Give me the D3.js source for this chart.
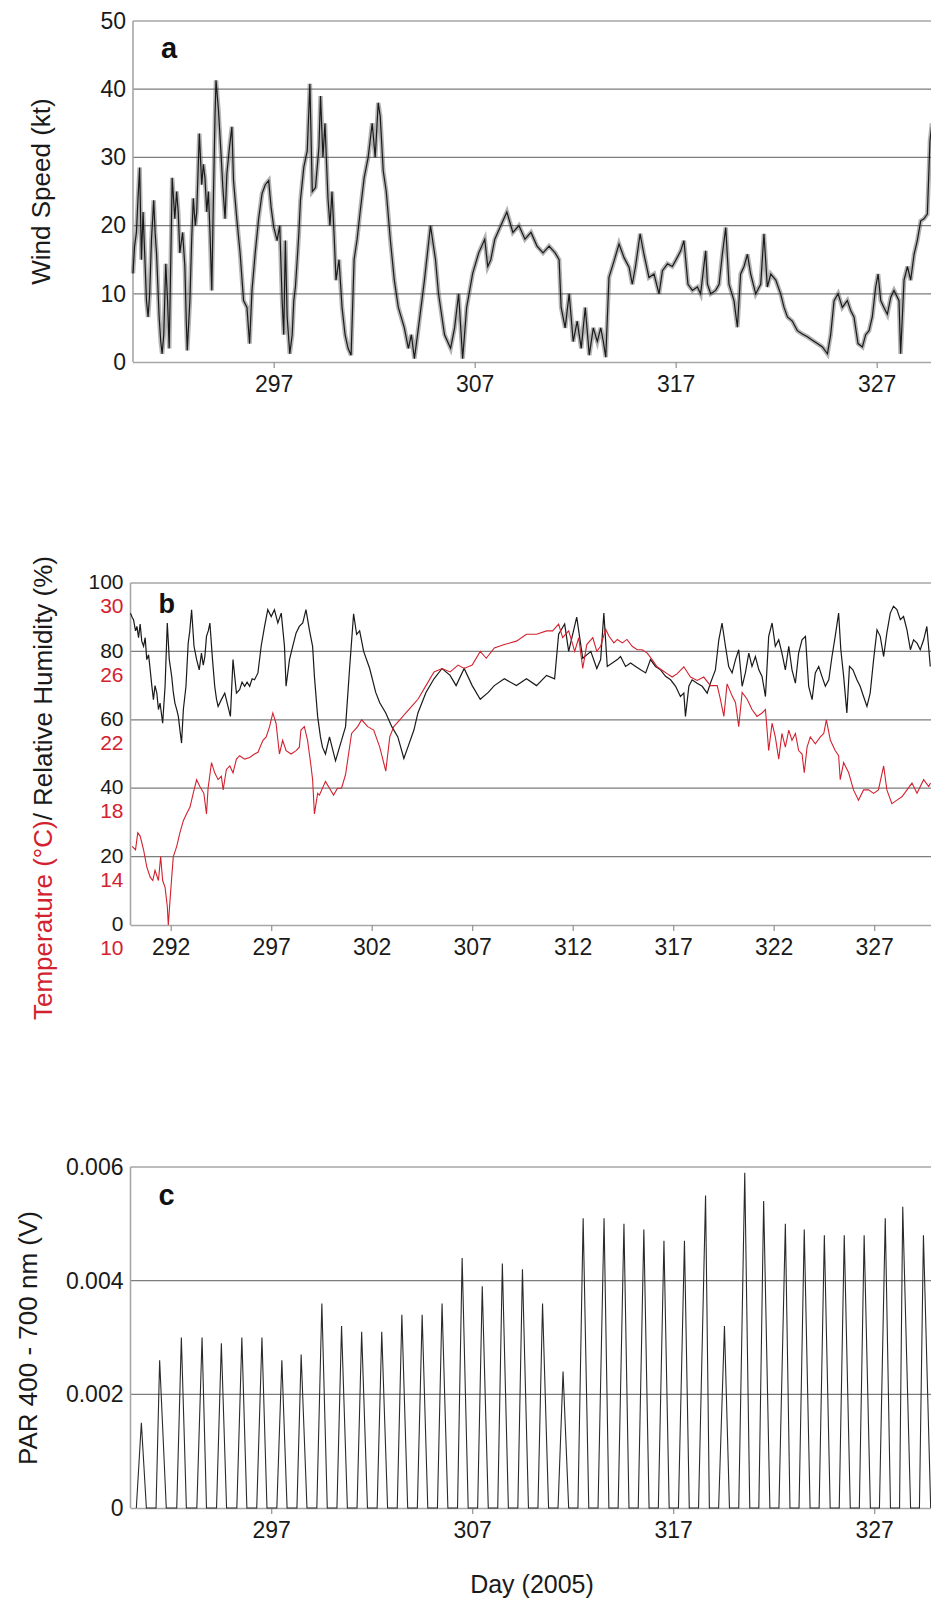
<!DOCTYPE html>
<html>
<head>
<meta charset="utf-8">
<script src="https://cdn.jsdelivr.net/npm/d3@7"></script>
<style>
    body { margin: 0; background: #fff; }
    svg { display: block; font-family: "Liberation Sans", Arial, Helvetica, sans-serif; }
</style>
</head>
<body>
<svg id="chart" width="931" height="1600"></svg>
<script>
"use strict";

// ---- data (day of 2005, value) ----

// panel a: wind speed (kt)
const windSpeed = [
    [290.00, 13], [290.08, 17], [290.17, 19], [290.25, 24], [290.33, 28.5], [290.42, 15], [290.50, 22],
    [290.58, 16], [290.67, 9], [290.75, 6.6], [290.83, 10], [290.92, 18], [291.03, 23.7], [291.10, 19],
    [291.17, 16], [291.30, 6.6], [291.38, 3], [291.45, 1.2], [291.53, 4], [291.63, 14.4], [291.72, 9],
    [291.80, 2], [291.88, 15], [291.95, 27], [292.08, 21], [292.17, 25], [292.25, 22], [292.33, 16],
    [292.47, 19], [292.58, 14], [292.65, 6], [292.70, 1.7], [292.83, 9], [292.92, 18], [293.00, 24],
    [293.10, 20], [293.17, 22], [293.30, 33.5], [293.42, 26], [293.50, 29], [293.58, 27], [293.67, 22],
    [293.75, 25], [293.83, 19], [293.92, 10.5], [294.00, 24], [294.08, 36], [294.13, 41.3], [294.25, 37],
    [294.37, 31], [294.47, 25.6], [294.58, 21], [294.67, 27.6], [294.80, 31.5], [294.92, 34.5], [295.00, 26.6],
    [295.17, 20.8], [295.33, 15.9], [295.50, 9], [295.67, 8], [295.80, 2.7], [295.92, 10.5], [296.08, 16],
    [296.25, 21], [296.42, 24.7], [296.58, 26], [296.75, 26.6], [296.87, 22.7], [297.00, 19.8], [297.17, 17.8],
    [297.30, 20], [297.42, 9], [297.50, 4], [297.58, 17.8], [297.67, 6.6], [297.80, 1.2], [297.92, 4],
    [298.00, 9], [298.08, 11], [298.17, 15], [298.25, 18.8], [298.33, 23.7], [298.50, 28.6], [298.67, 31],
    [298.80, 40.8], [298.92, 25], [299.08, 25.6], [299.25, 31.5], [299.33, 39], [299.45, 30], [299.55, 35],
    [299.70, 24], [299.80, 20], [299.90, 25], [300.00, 19], [300.10, 12], [300.25, 15], [300.40, 8],
    [300.55, 4], [300.70, 2], [300.85, 1], [301.00, 15], [301.15, 18], [301.30, 22], [301.50, 27],
    [301.70, 30], [301.90, 35], [302.05, 30], [302.20, 38], [302.30, 36], [302.45, 28], [302.60, 25],
    [302.80, 18], [303.00, 12], [303.20, 8], [303.50, 5], [303.70, 2], [303.85, 4], [304.00, 0.5],
    [304.20, 5], [304.50, 12], [304.80, 20], [304.95, 17], [305.05, 15], [305.20, 10], [305.50, 4],
    [305.80, 2], [306.00, 5], [306.20, 10], [306.40, 0.5], [306.60, 8], [306.90, 13], [307.20, 16],
    [307.50, 18], [307.65, 14], [307.80, 15], [308.00, 18], [308.30, 20], [308.60, 22], [308.90, 19],
    [309.20, 20], [309.50, 18], [309.80, 19], [310.10, 17], [310.40, 16], [310.70, 17], [311.00, 16],
    [311.20, 15], [311.30, 8], [311.50, 5], [311.70, 10], [311.90, 3], [312.10, 6], [312.30, 2],
    [312.50, 8], [312.70, 1], [312.90, 5], [313.10, 3], [313.27, 5], [313.40, 3], [313.52, 0.7],
    [313.68, 12.4], [313.93, 14.8], [314.18, 17.3], [314.43, 15.3], [314.68, 13.9], [314.84, 11.4], [315.00, 14],
    [315.23, 18.8], [315.42, 15.8], [315.67, 12.4], [315.92, 12.9], [316.17, 10], [316.34, 13.4], [316.59, 14.4],
    [316.83, 14], [317.00, 14.9], [317.25, 16.3], [317.41, 17.8], [317.61, 11.4], [317.83, 10.5], [318.08, 11],
    [318.24, 10], [318.49, 16.3], [318.58, 11.4], [318.74, 10], [318.99, 10.5], [319.16, 11.4], [319.32, 15.8],
    [319.49, 19.7], [319.65, 11.4], [319.90, 9], [320.07, 5.1], [320.23, 12.9], [320.40, 14], [320.57, 15.8],
    [320.73, 12.9], [320.98, 10], [321.23, 11.4], [321.39, 18.8], [321.56, 11], [321.73, 12.9], [321.98, 12],
    [322.22, 10], [322.39, 8], [322.56, 6.6], [322.80, 6], [323.05, 4.6], [323.30, 4.1], [323.55, 3.7],
    [323.80, 3.2], [324.05, 2.7], [324.30, 2.2], [324.55, 1.2], [324.71, 4], [324.88, 9], [325.08, 10],
    [325.29, 8], [325.54, 9], [325.71, 7.5], [325.87, 6.6], [326.07, 2.7], [326.29, 2.2], [326.45, 4],
    [326.62, 4.6], [326.78, 6.6], [326.95, 11], [327.07, 12.9], [327.20, 9], [327.36, 8], [327.53, 7],
    [327.70, 9.5], [327.86, 10.5], [328.11, 9], [328.19, 1.2], [328.36, 12], [328.53, 14], [328.69, 12],
    [328.86, 15.8], [329.02, 17.8], [329.19, 20.7], [329.35, 21], [329.52, 21.7], [329.65, 32.4], [329.75, 35]
];

// panel b: relative humidity (%)
const humidity = [
    [290.00, 91.2], [290.08, 90], [290.15, 89.3], [290.25, 86], [290.32, 87.3], [290.40, 84], [290.48, 88],
    [290.56, 83], [290.65, 81.5], [290.73, 84], [290.81, 77.6], [290.90, 79], [290.98, 74.6], [291.06, 70],
    [291.14, 65.9], [291.22, 70], [291.31, 67.8], [291.39, 63], [291.47, 64.9], [291.60, 59], [291.72, 69.8],
    [291.83, 88.3], [291.93, 77.6], [292.05, 72.7], [292.13, 68], [292.21, 64.9], [292.30, 63], [292.38, 61],
    [292.46, 57], [292.54, 53.2], [292.63, 63], [292.76, 69.8], [292.87, 82.4], [292.95, 86], [293.04, 92.2],
    [293.16, 81.5], [293.29, 77.6], [293.42, 74.6], [293.53, 79.5], [293.62, 76], [293.70, 78.5], [293.78, 84.4],
    [293.87, 86], [293.95, 88.3], [294.08, 77.6], [294.19, 69.8], [294.28, 66], [294.36, 63.9], [294.52, 65.9],
    [294.69, 67.8], [294.85, 63.9], [294.97, 61], [295.10, 77.6], [295.27, 67.8], [295.43, 68.8], [295.55, 71],
    [295.68, 69.8], [295.80, 71], [295.93, 69.8], [296.05, 72], [296.17, 71.7], [296.34, 73.7], [296.50, 81.5],
    [296.67, 87.3], [296.83, 92.2], [297.00, 90.2], [297.16, 92.2], [297.33, 88.3], [297.50, 91.2], [297.66, 81.5],
    [297.74, 69.8], [297.91, 77.6], [298.07, 81.5], [298.24, 85.4], [298.40, 87.3], [298.57, 88.3], [298.73, 92.2],
    [298.90, 86.3], [299.06, 81.5], [299.15, 72.7], [299.31, 61], [299.45, 55], [299.55, 52], [299.70, 50],
    [299.90, 55], [300.20, 48], [300.40, 52], [300.70, 58], [300.90, 75], [301.10, 91], [301.25, 85],
    [301.40, 86], [301.60, 80], [301.90, 75], [302.20, 68], [302.40, 65], [302.70, 62], [303.00, 58],
    [303.30, 55], [303.60, 48.7], [303.80, 52], [304.10, 57], [304.30, 62], [304.70, 68], [305.10, 72],
    [305.50, 75], [305.90, 73], [306.20, 70], [306.60, 75], [307.00, 70], [307.40, 66], [307.80, 68],
    [308.10, 70], [308.60, 72], [309.20, 70], [309.70, 72], [310.20, 70], [310.70, 73], [311.10, 72],
    [311.30, 85], [311.60, 88], [311.80, 80], [312.20, 90], [312.50, 78], [312.90, 80], [313.20, 75],
    [313.39, 77.6], [313.55, 91.2], [313.72, 75.6], [313.97, 76.6], [314.22, 77.6], [314.38, 78.5], [314.63, 75.6],
    [314.88, 76.6], [315.13, 75.6], [315.38, 74.6], [315.63, 73.7], [315.87, 77.6], [316.12, 75.6], [316.37, 74.6],
    [316.62, 72.7], [316.87, 71.7], [317.12, 69.8], [317.36, 66.8], [317.53, 67.8], [317.61, 61], [317.78, 69.8],
    [317.94, 71.7], [318.19, 70.7], [318.44, 69.8], [318.69, 67.8], [318.85, 70.7], [319.10, 74.6], [319.27, 83.4],
    [319.43, 88.3], [319.60, 81.5], [319.76, 75.6], [319.93, 73.7], [320.10, 77.6], [320.26, 80.5], [320.43, 69.8],
    [320.59, 73.7], [320.76, 79.5], [320.92, 75.6], [321.09, 78.5], [321.26, 74.6], [321.42, 72.7], [321.59, 66.8],
    [321.75, 84.4], [321.92, 88.3], [322.08, 81.5], [322.25, 83.4], [322.41, 79.5], [322.58, 74.6], [322.75, 81.5],
    [322.91, 74.6], [323.08, 70.7], [323.24, 79.5], [323.41, 83.4], [323.58, 84.4], [323.74, 69.8], [323.91, 65.9],
    [324.07, 73.7], [324.24, 75.6], [324.40, 72.7], [324.57, 69.8], [324.74, 71.7], [324.90, 78.5], [325.06, 84.4],
    [325.23, 91.2], [325.34, 80.5], [325.48, 72.7], [325.64, 62], [325.77, 75.6], [325.94, 74.6], [326.14, 71.7],
    [326.30, 69.8], [326.47, 66.8], [326.64, 63.9], [326.80, 67.8], [326.97, 77.6], [327.14, 86.3], [327.30, 84.4],
    [327.47, 78.5], [327.63, 85.4], [327.80, 91.2], [327.96, 93.2], [328.13, 92.2], [328.30, 89.3], [328.46, 90.2],
    [328.63, 86.3], [328.80, 80.5], [328.96, 83.4], [329.13, 82.4], [329.29, 80.5], [329.46, 83.4], [329.62, 87.3],
    [329.79, 75.6]
];

// panel b: air temperature (deg C)
const temperature = [
    [290.08, 14.6], [290.25, 14.4], [290.36, 15.4], [290.48, 15.2], [290.65, 14.4], [290.81, 13.4], [290.98, 12.8],
    [291.11, 12.6], [291.22, 13.2], [291.39, 12.6], [291.50, 14.0], [291.60, 12.6], [291.72, 12.2], [291.83, 11.1],
    [291.88, 10.0], [291.97, 11.5], [292.05, 12.8], [292.13, 14.0], [292.30, 14.6], [292.46, 15.4], [292.63, 16.1],
    [292.79, 16.5], [292.96, 16.9], [293.12, 17.7], [293.29, 18.5], [293.45, 18.1], [293.65, 17.7], [293.78, 16.5],
    [293.86, 18.0], [294.03, 19.5], [294.19, 18.9], [294.36, 18.5], [294.52, 18.7], [294.61, 17.9], [294.77, 19.1],
    [294.94, 19.3], [295.10, 18.9], [295.27, 19.7], [295.43, 19.9], [295.68, 19.7], [295.93, 19.8], [296.17, 20.0],
    [296.34, 20.1], [296.59, 20.8], [296.75, 21.0], [296.92, 21.6], [297.08, 22.4], [297.24, 21.8], [297.41, 20.0],
    [297.57, 20.8], [297.74, 20.2], [297.99, 20.0], [298.24, 20.2], [298.40, 20.4], [298.48, 21.4], [298.65, 21.6],
    [298.81, 20.8], [298.98, 19.3], [299.06, 18.5], [299.15, 16.5], [299.31, 17.7], [299.40, 17.6], [299.70, 18.4],
    [299.90, 18.0], [300.10, 17.6], [300.30, 18.0], [300.50, 18.0], [300.70, 18.8], [301.00, 21.2], [301.30, 21.6],
    [301.50, 22.0], [301.80, 21.6], [302.10, 21.4], [302.40, 20.4], [302.70, 19.0], [302.90, 21.0], [303.10, 21.6],
    [303.40, 22.0], [303.70, 22.4], [304.00, 22.8], [304.30, 23.2], [304.70, 24.0], [305.10, 24.8], [305.50, 25.0],
    [305.90, 24.8], [306.30, 25.2], [306.60, 25.0], [307.00, 25.2], [307.40, 26.0], [307.70, 25.6], [308.10, 26.2],
    [308.60, 26.4], [309.20, 26.6], [309.70, 27.0], [310.20, 27.0], [310.70, 27.2], [311.00, 27.2], [311.30, 27.6],
    [311.50, 26.8], [311.80, 27.2], [312.10, 26.0], [312.30, 26.8], [312.50, 25.0], [312.70, 26.4], [313.00, 26.8],
    [313.20, 26.0], [313.39, 26.3], [313.64, 27.3], [313.80, 26.9], [314.05, 26.5], [314.22, 26.7], [314.47, 26.5],
    [314.70, 26.7], [314.96, 26.3], [315.21, 26.1], [315.46, 26.1], [315.71, 25.9], [315.96, 25.5], [316.20, 25.1],
    [316.45, 24.9], [316.70, 24.7], [316.95, 24.5], [317.20, 24.7], [317.53, 25.1], [317.86, 24.5], [318.19, 24.3],
    [318.52, 24.5], [318.85, 24.0], [319.19, 24.0], [319.35, 23.2], [319.52, 22.2], [319.68, 24.1], [319.93, 23.4],
    [320.10, 23.0], [320.26, 21.6], [320.43, 23.6], [320.68, 23.2], [320.92, 22.6], [321.17, 22.2], [321.42, 22.4],
    [321.59, 22.6], [321.75, 20.2], [321.92, 21.8], [322.08, 21.0], [322.25, 19.7], [322.41, 21.2], [322.58, 20.4],
    [322.75, 21.4], [322.91, 20.8], [323.08, 21.2], [323.24, 20.2], [323.41, 20.0], [323.52, 18.9], [323.66, 20.4],
    [323.82, 21.0], [324.07, 20.6], [324.32, 21.0], [324.49, 21.2], [324.62, 22.0], [324.82, 20.8], [325.06, 20.2],
    [325.23, 19.9], [325.31, 18.5], [325.48, 19.5], [325.73, 18.9], [325.97, 17.9], [326.22, 17.3], [326.47, 17.9],
    [326.72, 17.9], [326.97, 17.7], [327.21, 17.9], [327.47, 19.3], [327.63, 17.9], [327.88, 17.1], [328.13, 17.3],
    [328.38, 17.5], [328.63, 17.9], [328.88, 18.3], [329.13, 17.7], [329.46, 18.5], [329.71, 18.1], [329.80, 18.3]
];

// panel c: PAR, one row per day: [sunrise, time of peak, peak (V), sunset]
const parDaily = [
    [290.29, 290.54, 0.0015, 290.79], [291.27, 291.45, 0.0026, 291.78], [292.30, 292.53, 0.0030, 292.78],
    [293.30, 293.56, 0.0030, 293.78], [294.28, 294.52, 0.0029, 294.78], [295.29, 295.54, 0.0030, 295.79],
    [296.28, 296.54, 0.0030, 296.79], [297.28, 297.53, 0.0026, 297.79], [298.28, 298.49, 0.0027, 298.78],
    [299.27, 299.52, 0.0036, 299.79], [300.27, 300.50, 0.0032, 300.79], [301.27, 301.50, 0.0031, 301.79],
    [302.27, 302.50, 0.0031, 302.79], [303.27, 303.50, 0.0034, 303.79], [304.27, 304.51, 0.0034, 304.79],
    [305.27, 305.50, 0.0036, 305.79], [306.27, 306.50, 0.0044, 306.80], [307.27, 307.50, 0.0039, 307.80],
    [308.27, 308.50, 0.0043, 308.80], [309.27, 309.50, 0.0042, 309.80], [310.27, 310.50, 0.0036, 310.80],
    [311.27, 311.52, 0.0024, 311.80], [312.26, 312.52, 0.0051, 312.80], [313.26, 313.56, 0.0051, 313.80],
    [314.26, 314.55, 0.0050, 314.80], [315.26, 315.54, 0.0049, 315.80], [316.26, 316.54, 0.0047, 316.80],
    [317.26, 317.56, 0.0047, 317.80], [318.26, 318.61, 0.0055, 318.80], [319.26, 319.55, 0.0032, 319.80],
    [320.26, 320.56, 0.0059, 320.81], [321.26, 321.50, 0.0054, 321.81], [322.26, 322.58, 0.0050, 322.81],
    [323.26, 323.52, 0.0049, 323.81], [324.26, 324.52, 0.0048, 324.81], [325.26, 325.51, 0.0048, 325.81],
    [326.26, 326.50, 0.0048, 326.81], [327.26, 327.55, 0.0051, 327.81], [328.26, 328.42, 0.0053, 328.81],
    [329.25, 329.45, 0.0048, 329.81]
];

// axis ticks
const dayTicksSparse = [297, 307, 317, 327];
const dayTicksDense = [292, 297, 302, 307, 312, 317, 322, 327];
const windTicks = [0, 10, 20, 30, 40, 50];
const humidityTicks = [0, 20, 40, 60, 80, 100];
const temperatureTicks = [10, 14, 18, 22, 26, 30];
const parTicks = [0, 0.002, 0.004, 0.006];

const RED = "#d3222f";
const WIDTH = 931;
const PX_PER_DAY = 20.1;
const DAY0 = 290, DAY1 = 331;

let svg = d3.select("#chart");

function makePanel(cfg) {
    let x = d3.scaleLinear()
        .domain([DAY0, DAY1])
        .range([cfg.left, cfg.left + (DAY1 - DAY0) * PX_PER_DAY]);

    let y = d3.scaleLinear()
        .domain(cfg.yDomain)
        .range([cfg.bottom, cfg.top]);

    let g = svg.append("g");

    // horizontal grid lines
    g.append("g")
        .selectAll("line")
        .data(cfg.yTicks.slice(1, -1))
        .enter().append("line")
        .attr("x1", cfg.left).attr("x2", WIDTH)
        .attr("y1", d => y(d)).attr("y2", d => y(d))
        .style("stroke", "#7d7d7d")
        .style("stroke-width", 1.3);

    // frame: top and left edges
    g.append("line")
        .attr("x1", cfg.left).attr("x2", WIDTH)
        .attr("y1", cfg.top).attr("y2", cfg.top)
        .style("stroke", "#a6a6a6").style("stroke-width", 1.6);
    g.append("line")
        .attr("x1", cfg.left).attr("x2", cfg.left)
        .attr("y1", cfg.top).attr("y2", cfg.bottom)
        .style("stroke", "#a6a6a6").style("stroke-width", 1.6);

    // bottom axis
    let xAxis = d3.axisBottom(x)
        .tickValues(cfg.xTicks)
        .tickFormat(d3.format("d"))
        .tickSize(6)
        .tickPadding(8);

    let xg = g.append("g")
        .attr("transform", `translate(0,${cfg.bottom})`)
        .call(xAxis);
    xg.select(".domain")
        .attr("d", `M${cfg.left},0.5H${WIDTH}`)
        .style("stroke", "#a6a6a6").style("stroke-width", 1.6);
    xg.selectAll(".tick line").style("stroke", "#999").style("stroke-width", 1.3);
    xg.selectAll(".tick text")
        .style("font-size", "23px").style("fill", "#1a1a1a")
        .attr("font-family", null);

    // left tick labels
    let yAxis = d3.axisLeft(y)
        .tickValues(cfg.yTicks)
        .tickFormat(cfg.yFormat)
        .tickSize(0)
        .tickPadding(7);

    let yg = g.append("g")
        .attr("transform", `translate(${cfg.left},${cfg.labelShift || 0})`)
        .call(yAxis);
    yg.select(".domain").remove();
    yg.selectAll(".tick text")
        .style("font-size", cfg.labelSize || "23px").style("fill", "#1a1a1a")
        .attr("font-family", null);

    // panel letter
    g.append("text")
        .attr("x", cfg.left + 28)
        .attr("y", cfg.letterY)
        .style("font-size", cfg.letterSize || "29px")
        .style("font-weight", "bold")
        .style("fill", "#111")
        .text(cfg.letter);

    return { g, x, y };
}

// ---- panel a ----
let panelA = makePanel({
    left: 133, top: 21, bottom: 362,
    yDomain: [0, 50], yTicks: windTicks, yFormat: d3.format("d"),
    xTicks: dayTicksSparse, letter: "a", letterY: 58
});

let windLine = d3.line()
    .x(d => panelA.x(d[0]))
    .y(d => panelA.y(d[1]));

// soft band under the trace, the record is much denser than the points read
panelA.g.append("path")
    .datum(windSpeed)
    .attr("d", windLine)
    .style("fill", "none")
    .style("stroke", "#444")
    .style("stroke-opacity", 0.4)
    .style("stroke-width", 4.5);

panelA.g.append("path")
    .datum(windSpeed)
    .attr("d", windLine)
    .style("fill", "none")
    .style("stroke", "#1a1a1a")
    .style("stroke-width", 1.2);

panelA.g.append("text")
    .attr("transform", "translate(41,191.5) rotate(-90)")
    .attr("text-anchor", "middle")
    .attr("dy", "0.35em")
    .style("font-size", "26px")
    .style("fill", "#1a1a1a")
    .text("Wind Speed (kt)");

// ---- panel b ----
let panelB = makePanel({
    left: 130.5, top: 583, bottom: 925,
    yDomain: [0, 100], yTicks: humidityTicks, yFormat: d3.format("d"),
    xTicks: dayTicksDense, letter: "b", letterY: 613, letterSize: "27px",
    labelSize: "21px", labelShift: -1
});

// temperature labels sit under the humidity labels
let tempScale = d3.scaleLinear()
    .domain([temperatureTicks[0], temperatureTicks[temperatureTicks.length - 1]])
    .range([925, 583]);

let tempAxis = panelB.g.append("g")
    .attr("transform", "translate(130.5,23)")
    .call(d3.axisLeft(tempScale).tickValues(temperatureTicks).tickSize(0).tickPadding(7));
tempAxis.select(".domain").remove();
tempAxis.selectAll(".tick text")
    .style("font-size", "21px").style("fill", RED)
    .attr("font-family", null);

panelB.g.append("path")
    .datum(humidity)
    .attr("d", d3.line().x(d => panelB.x(d[0])).y(d => panelB.y(d[1])))
    .style("fill", "none")
    .style("stroke", "#1a1a1a")
    .style("stroke-width", 1.2);

panelB.g.append("path")
    .datum(temperature)
    .attr("d", d3.line().x(d => panelB.x(d[0])).y(d => tempScale(d[1])))
    .style("fill", "none")
    .style("stroke", RED)
    .style("stroke-width", 1.1);

let titleB = panelB.g.append("text")
    .attr("transform", "translate(42.5,788) rotate(-90)")
    .attr("text-anchor", "middle")
    .attr("dy", "0.35em")
    .style("font-size", "26px");
titleB.append("tspan").style("fill", RED).text("Temperature (°C)");
titleB.append("tspan").style("fill", "#1a1a1a").text("/ Relative Humidity (%)");

// ---- panel c ----
let panelC = makePanel({
    left: 130.5, top: 1167, bottom: 1508,
    yDomain: [0, 0.006], yTicks: parTicks, yFormat: d => d === 0 ? "0" : d3.format(".3f")(d),
    xTicks: dayTicksSparse, letter: "c", letterY: 1205
});

// each day: dark until sunrise, up to the noon peak, back to zero at sunset
let parPoints = [];
parDaily.forEach(function(row) {
    parPoints.push([row[0], 0], [row[1], row[2]], [row[3], 0]);
});

panelC.g.append("path")
    .datum(parPoints)
    .attr("d", d3.line().x(d => panelC.x(d[0])).y(d => panelC.y(d[1])))
    .style("fill", "none")
    .style("stroke", "#2a2a2a")
    .style("stroke-width", 1.1);

panelC.g.append("text")
    .attr("transform", "translate(27.5,1338) rotate(-90)")
    .attr("text-anchor", "middle")
    .attr("dy", "0.35em")
    .style("font-size", "26px")
    .style("fill", "#1a1a1a")
    .text("PAR 400 - 700 nm (V)");

svg.append("text")
    .attr("x", 532)
    .attr("y", 1593)
    .attr("text-anchor", "middle")
    .style("font-size", "25px")
    .style("fill", "#1a1a1a")
    .text("Day (2005)");
</script>
</body>
</html>
